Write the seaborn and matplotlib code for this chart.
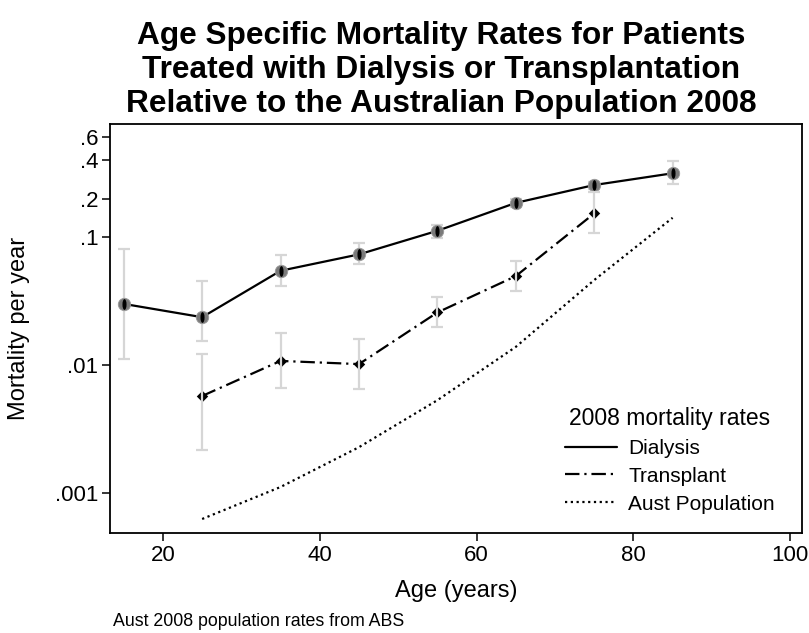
import matplotlib
matplotlib.use("Agg")
import numpy as np
import pandas as pd
import matplotlib.pyplot as plt
import seaborn as sns
from matplotlib.lines import Line2D
from matplotlib.path import Path
from matplotlib.transforms import Affine2D

# ages (years)
dial_age = [15, 25, 35, 45, 55, 65, 75, 85]
dial_rate = [0.0301, 0.0237, 0.0546, 0.0733, 0.112, 0.185, 0.255, 0.315]
dial_lo = [0.0112, 0.0154, 0.0417, 0.0612, 0.0989, 0.171, 0.236, 0.259]
dial_hi = [0.0806, 0.0453, 0.0723, 0.0893, 0.124, 0.200, 0.270, 0.393]

tx_age = [25, 35, 45, 55, 65, 75]
tx_rate = [0.00575, 0.0108, 0.0102, 0.0258, 0.0496, 0.153]
tx_lo = [0.00217, 0.00658, 0.0065, 0.0197, 0.0379, 0.107]
tx_hi = [0.0123, 0.0177, 0.0160, 0.0342, 0.0646, 0.226]

pop_age = [25, 35, 45, 55, 65, 75, 85]
pop_rate = [0.00063, 0.00112, 0.00229, 0.00533, 0.0139, 0.0462, 0.1415]

y_ticks = [0.001, 0.01, 0.1, 0.2, 0.4, 0.6]
y_ticklabels = [".001", ".01", ".1", ".2", ".4", ".6"]
x_ticks = [20, 40, 60, 80, 100]

sns.set_theme(style="ticks", rc={"text.color": "black", "axes.labelcolor": "black",
                                 "xtick.color": "black", "ytick.color": "black",
                                 "axes.edgecolor": "black"})
plt.rcParams["font.family"] = ["Liberation Sans", "DejaVu Sans"]

DASHDOT = (0, (6.5, 2.2, 1.0, 2.2))
DOTTED = (0, (1.0, 1.6))
ERR_COL = "#d6d6d6"

fig = plt.figure(figsize=(8.09, 6.33), dpi=100)
ax = fig.add_axes([110 / 809, 1 - 533 / 633, 692 / 809, 409 / 633])

dial = pd.DataFrame({"age": dial_age, "rate": dial_rate})
tx = pd.DataFrame({"age": tx_age, "rate": tx_rate})
pop = pd.DataFrame({"age": pop_age, "rate": pop_rate})

# error bars under dialysis markers
ax.errorbar(dial_age, dial_rate,
            yerr=[np.array(dial_rate) - np.array(dial_lo), np.array(dial_hi) - np.array(dial_rate)],
            fmt="none", ecolor=ERR_COL, elinewidth=1.6, capsize=4.3, capthick=1.6, zorder=1)

sns.lineplot(data=pop, x="age", y="rate", ax=ax, color="black", lw=1.6,
             linestyle=DOTTED, zorder=2)
sns.lineplot(data=dial, x="age", y="rate", ax=ax, color="black", lw=1.6, zorder=3)
sns.lineplot(data=tx, x="age", y="rate", ax=ax, color="black", lw=1.6,
             linestyle=DASHDOT, zorder=3)

# dialysis markers: grey disc with dark core
ell = Path.unit_circle().transformed(Affine2D().scale(0.38, 1.0))
sns.scatterplot(data=dial, x="age", y="rate", ax=ax, marker="o", s=80,
                color="#7a7a7a", edgecolor="#9a9a9a", linewidth=0.6, zorder=4)
sns.scatterplot(data=dial, x="age", y="rate", ax=ax, marker=ell, s=60,
                color="black", linewidth=0, zorder=5)
# transplant markers
sns.scatterplot(data=tx, x="age", y="rate", ax=ax, marker="D", s=34,
                color="black", linewidth=0, zorder=4)
ax.errorbar(tx_age, tx_rate,
            yerr=[np.array(tx_rate) - np.array(tx_lo), np.array(tx_hi) - np.array(tx_rate)],
            fmt="none", ecolor=ERR_COL, elinewidth=1.6, capsize=4.3, capthick=1.6, zorder=6)

ax.set_yscale("log")
ax.set_ylim(10 ** -3.31, 10 ** -0.117)
ax.set_xlim(13.25, 101.5)
ax.set_yticks(y_ticks)
ax.set_yticklabels(y_ticklabels)
ax.yaxis.set_minor_locator(matplotlib.ticker.NullLocator())
ax.set_xticks(x_ticks)
ax.tick_params(axis="both", which="major", length=5.5, width=1.1, color="black",
               labelsize=16, labelcolor="black", pad=3)
for sp in ax.spines.values():
    sp.set_linewidth(1.3)
    sp.set_color("black")

ax.set_xlabel("Age (years)", fontsize=17)
ax.set_ylabel("Mortality per year", fontsize=17)
ax.xaxis.set_label_coords(0.5, -0.115)
ax.yaxis.set_label_coords(-0.115, 0.5)

handles = [
    Line2D([], [], color="black", lw=1.6),
    Line2D([], [], color="black", lw=1.6, linestyle=DASHDOT),
    Line2D([], [], color="black", lw=1.6, linestyle=DOTTED),
]
leg = ax.legend(handles, ["Dialysis", "Transplant", "Aust Population"],
                title="2008 mortality rates", loc="lower right",
                bbox_to_anchor=(0.982, 0.012), frameon=False, fontsize=15,
                title_fontsize=16.5, handlelength=2.5, handletextpad=0.55,
                labelspacing=0.42, borderaxespad=0.3)
leg._legend_box.align = "center"

fig.text(441 / 809, 1 - 70 / 633, "Age Specific Mortality Rates for Patients\n"
         "Treated with Dialysis or Transplantation\n"
         "Relative to the Australian Population 2008",
         ha="center", va="center", fontsize=22.8, fontweight="bold",
         family=["Liberation Sans", "DejaVu Sans"], linespacing=1.19)

fig.text(113 / 809, 1 - 621 / 633, "Aust 2008 population rates from ABS",
         ha="left", va="center", fontsize=12.8)

fig.savefig("out.png", dpi=100)
